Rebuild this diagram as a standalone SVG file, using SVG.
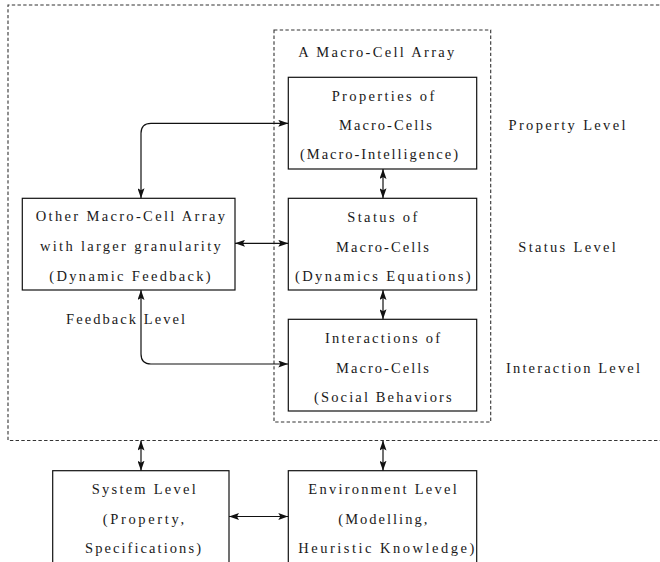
<svg xmlns="http://www.w3.org/2000/svg" width="660" height="562" viewBox="0 0 660 562">
  <style>
    .box { fill: #ffffff; stroke: #111111; stroke-width: 1.2; }
    .frame { fill: none; stroke: #333333; stroke-width: 1.1; stroke-dasharray: 3.4 2.3; }
    .conn { fill: none; stroke: #111111; stroke-width: 1.2; marker-start: url(#ah); marker-end: url(#ah); }
    text { font-family: "Liberation Serif", "DejaVu Serif", serif; font-size: 14.5px; fill: #1a1a1a; }
  </style>
  <defs>
    <marker id="ah" viewBox="0 0 10 7" refX="10" refY="3.5" markerWidth="10" markerHeight="7" markerUnits="userSpaceOnUse" orient="auto-start-reverse">
      <path d="M0,0 L10,3.5 L0,7 L2,3.5 Z" fill="#111111"/>
    </marker>
  </defs>

  <!-- outer dashed frame (open to the right) -->
  <path class="frame" d="M665,5 H8 V440.5 H665"/>

  <!-- macro-cell array frame -->
  <g id="macro-cell-array">
    <rect class="frame" x="274" y="30" width="216.7" height="392"/>
    <text x="298.3" y="57.3" textLength="156">A Macro-Cell Array</text>
  </g>

  <g id="properties">
    <rect class="box" x="288.3" y="77.3" width="188.4" height="91.7"/>
    <text x="331.7" y="100.5" textLength="102.6">Properties of</text>
    <text x="339" y="130" textLength="93">Macro-Cells</text>
    <text x="300" y="159.3" textLength="158">(Macro-Intelligence)</text>
  </g>

  <g id="status">
    <rect class="box" x="288.3" y="198.3" width="188.4" height="91.7"/>
    <text x="347.3" y="222.3" textLength="70">Status of</text>
    <text x="336" y="251.7" textLength="93">Macro-Cells</text>
    <text x="295" y="280.7" textLength="175.7">(Dynamics Equations)</text>
  </g>

  <g id="interactions">
    <rect class="box" x="288.3" y="319.3" width="188.4" height="91.7"/>
    <text x="325" y="343.3" textLength="115">Interactions of</text>
    <text x="336" y="372.7" textLength="93">Macro-Cells</text>
    <text x="314" y="401.7" textLength="137.7">(Social Behaviors</text>
  </g>

  <g id="other-array">
    <rect class="box" x="22.3" y="198.3" width="212.7" height="91.7"/>
    <text x="35.7" y="220.7" textLength="189.3">Other Macro-Cell Array</text>
    <text x="40" y="250.7" textLength="180.7">with larger granularity</text>
    <text x="49.3" y="280.7" textLength="161.4">(Dynamic Feedback)</text>
  </g>

  <g id="level-labels">
    <text x="508.5" y="130" textLength="117">Property Level</text>
    <text x="518.3" y="251.7" textLength="97.4">Status Level</text>
    <text x="506" y="372.7" textLength="134">Interaction Level</text>
    <text x="66" y="324.3" textLength="119">Feedback Level</text>
  </g>

  <g id="system-level">
    <rect class="box" x="52.7" y="470.7" width="176.3" height="100"/>
    <text x="91.7" y="494" textLength="104">System Level</text>
    <text x="102.7" y="524" textLength="81.3">(Property,</text>
    <text x="85" y="552.7" textLength="116">Specifications)</text>
  </g>

  <g id="environment-level">
    <rect class="box" x="288.3" y="470.7" width="188.4" height="100"/>
    <text x="308.3" y="494" textLength="148.4">Environment Level</text>
    <text x="338.3" y="524" textLength="89">(Modelling,</text>
    <text x="298.3" y="552.7" textLength="176">Heuristic Knowledge)</text>
  </g>

  <g id="connectors">
    <path class="conn" d="M141,198.3 V133.3 Q141,123.3 151,123.3 H288.3"/>
    <path class="conn" d="M235,243.3 H288.3"/>
    <path class="conn" d="M141,290 V354 Q141,364 151,364 H288.3"/>
    <path class="conn" d="M383,169 V198.3"/>
    <path class="conn" d="M383,290 V319.3"/>
    <path class="conn" d="M141,440.5 V470.7"/>
    <path class="conn" d="M383,440.5 V470.7"/>
    <path class="conn" d="M229,516.5 H288.3"/>
  </g>
</svg>
